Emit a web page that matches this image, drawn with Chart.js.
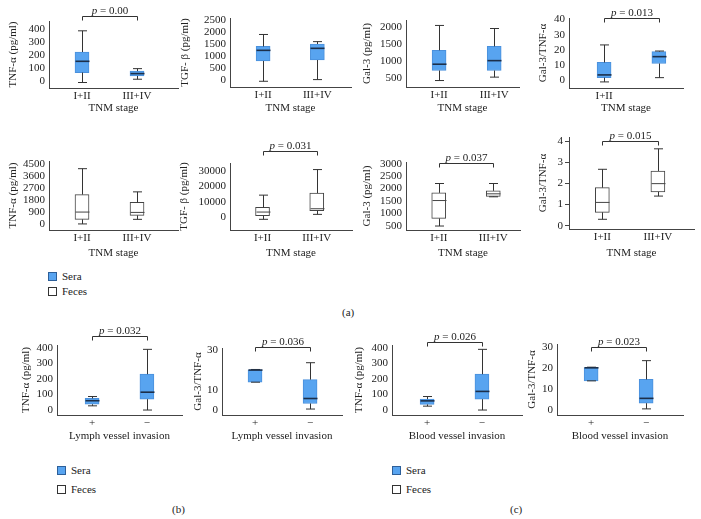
<!DOCTYPE html>
<html>
<head>
<meta charset="utf-8">
<script src="https://cdn.jsdelivr.net/npm/chart.js@4.4.0/dist/chart.umd.min.js"></script>
<style>
body { margin: 0; background: #fff; }
#wrap { position: relative; width: 701px; height: 519px; overflow: hidden; font-family: 'Liberation Serif', 'Times New Roman', serif; color: #222; }
#wrap canvas { position: absolute; }
.txt { position: absolute; font-size: 11px; line-height: 13px; white-space: nowrap; }
.sq { position: absolute; width: 7px; height: 7px; border: 1px solid #333; }
</style>
</head>
<body>
<div id="wrap">
  <div class="sq" style="left:48px;top:272px;background:#58a4f0;border-color:#2d5f99"></div>
  <div class="txt" style="left:62px;top:270px">Sera</div>
  <div class="sq" style="left:48px;top:287px;background:#fff"></div>
  <div class="txt" style="left:62px;top:285px">Feces</div>
  <div class="txt" style="left:342px;top:306px">(a)</div>

  <div class="sq" style="left:57px;top:466px;background:#58a4f0;border-color:#2d5f99"></div>
  <div class="txt" style="left:71px;top:464px">Sera</div>
  <div class="sq" style="left:57px;top:485px;background:#fff"></div>
  <div class="txt" style="left:71px;top:483px">Feces</div>
  <div class="txt" style="left:172px;top:503px">(b)</div>

  <div class="sq" style="left:392px;top:466px;background:#58a4f0;border-color:#2d5f99"></div>
  <div class="txt" style="left:406px;top:464px">Sera</div>
  <div class="sq" style="left:392px;top:485px;background:#fff"></div>
  <div class="txt" style="left:406px;top:483px">Feces</div>
  <div class="txt" style="left:510px;top:503px">(c)</div>
</div>
<script>
const fontFam = "'Liberation Serif', 'Times New Roman', serif";
const tnmStages = ['I+II', 'III+IV'];
const tnmStagesCut = ['I+II', ''];
const invasion = ['+', '\u2212'];

// each group: [min, q1, median, q3, max]
const seraTnfTnm = [[-10, 66, 152, 223, 385], [15, 40, 58, 77, 96]];
const seraTgfTnm = [[-50, 800, 1245, 1410, 1910], [20, 840, 1330, 1510, 1610]];
const seraGal3Tnm = [[420, 715, 900, 1310, 2040], [520, 715, 1005, 1425, 1950]];
const seraRatioTnm = [[-1, 1.8, 3.6, 11.8, 23.3], [1.8, 11.1, 15.6, 18.9, 19.3]];
const fecesTnfTnm = [[30, 370, 910, 2210, 4130], [370, 665, 885, 1625, 2410]];
const fecesTgfTnm = [[-1500, 870, 3260, 6300, 14350], [1740, 4130, 5430, 15650, 31100]];
const fecesGal3Tnm = [[490, 795, 1515, 1825, 2200], [1665, 1680, 1785, 1905, 2200]];
const fecesRatioTnm = [[0.30, 0.63, 1.10, 1.80, 2.67], [1.40, 1.60, 1.99, 2.59, 3.64]];
const seraTnfLymph = [[25, 35, 58, 73, 85], [-2, 68, 113, 229, 389]];
const seraRatioLymph = [[14, 14, 20.1, 20.2, 20.4], [0.5, 3.3, 5.8, 15.3, 23.8]];
const seraTnfBlood = [[23, 34, 57, 68, 85], [-2, 68, 118, 229, 389]];
const seraRatioBlood = [[13.8, 13.8, 20, 20.1, 20.3], [0.5, 3.2, 5.5, 14.5, 23.4]];

const ticksTnfSera = [0, 100, 200, 300, 400];
const ticksTgfSera = [0, 500, 1000, 1500, 2000, 2500];
const ticksGal3Sera = [500, 1000, 1500, 2000];
const ticksRatio40 = [0, 10, 20, 30, 40];
const ticksTnfFeces = [0, 900, 1800, 2700, 3600, 4500];
const ticksTgfFeces = [0, 10000, 20000, 30000];
const ticksGal3Feces = [500, 1000, 1500, 2000, 2500, 3000];
const ticksRatioFeces = [0, 1, 2, 3, 4];
const ticksRatioLymph = [0, 10, 30];
const ticksRatioBlood = [0, 10, 20, 30];

const seraFill = '#58a4f0', seraEdge = '#4a90dc', seraMedian = '#1c2f4a';
const axisCol = '#444', textCol = '#222';
const font = { family: fontFam, size: 11, lineHeight: 1.2 };

const panels = [
  { stats: seraTnfTnm, labels: tnmStages, ticks: ticksTnfSera, y: [-52, 460], yTitle: 'TNF-\u03b1 (pg/ml)', xTitle: 'TNM stage', sera: true,
    p: '0.00', brY: 15.7, titleX: 14, axisX: 49, axisRight: 178, chartTop: 21, axisY: 88, xTitleY: 108, xr: [0.4, 2.745] },
  { stats: seraTgfTnm, labels: tnmStages, ticks: ticksTgfSera, y: [-290, 2600], yTitle: 'TGF- \u03b2 (pg/ml)', xTitle: 'TNM stage', sera: true,
    titleX: 186, axisX: 230, axisRight: 351, chartTop: 18, axisY: 87, xTitleY: 108, xr: [0.39, 2.62] },
  { stats: seraGal3Tnm, labels: tnmStages, ticks: ticksGal3Sera, y: [230, 2200], yTitle: 'Gal-3 (pg/ml)', xTitle: 'TNM stage', sera: true,
    titleX: 368, axisX: 406, axisRight: 519, chartTop: 20, axisY: 87, xTitleY: 108, xr: [0.4, 2.45] },
  { stats: seraRatioTnm, labels: tnmStagesCut, ticks: ticksRatio40, y: [-5, 41], yTitle: 'Gal-3/TNF-\u03b1', xTitle: 'TNM stage', sera: true,
    p: '0.013', brY: 18.3, titleX: 544, axisX: 569, axisRight: 683, chartTop: 18, axisY: 88, xTitleY: 108, xr: [0.36, 2.44] },
  { stats: fecesTnfTnm, labels: tnmStages, ticks: ticksTnfFeces, y: [-420, 4700], yTitle: 'TNF-\u03b1 (pg/ml)', xTitle: 'TNM stage', sera: false,
    titleX: 14, axisX: 49, axisRight: 178, chartTop: 161, axisY: 230, xTitleY: 253, xr: [0.4, 2.745] },
  { stats: fecesTgfTnm, labels: tnmStages, ticks: ticksTgfFeces, y: [-8500, 35400], yTitle: 'TGF- \u03b2 (pg/ml)', xTitle: 'TNM stage', sera: false,
    p: '0.031', brY: 150.7, titleX: 185, axisX: 230, axisRight: 352, chartTop: 163, axisY: 230, xTitleY: 253, xr: [0.4, 2.65] },
  { stats: fecesGal3Tnm, labels: tnmStages, ticks: ticksGal3Feces, y: [330, 3065], yTitle: 'Gal-3 (pg/ml)', xTitle: 'TNM stage', sera: false,
    p: '0.037', brY: 163.3, titleX: 368, axisX: 406, axisRight: 520, chartTop: 162, axisY: 230, xTitleY: 253, xr: [0.4, 2.49] },
  { stats: fecesRatioTnm, labels: tnmStages, ticks: ticksRatioFeces, y: [-0.16, 4.2], yTitle: 'Gal-3/TNF-\u03b1', xTitle: 'TNM stage', sera: false, tickMarks: true,
    p: '0.015', brY: 140.7, titleX: 544, axisX: 569, axisRight: 694, chartTop: 137, axisY: 229, xTitleY: 253, xr: [0.4, 2.65] },
  { stats: seraTnfLymph, labels: invasion, ticks: ticksTnfSera, y: [-34, 417], yTitle: 'TNF-\u03b1 (pg/ml)', xTitle: 'Lymph vessel invasion', sera: true,
    p: '0.032', brY: 336, titleX: 27, axisX: 57, axisRight: 182, chartTop: 345, axisY: 415, xTitleY: 436, xr: [0.36, 2.64] },
  { stats: seraRatioLymph, labels: invasion, ticks: ticksRatioLymph, y: [-2.5, 31.2], yTitle: 'Gal-3/TNF-\u03b1', xTitle: 'Lymph vessel invasion', sera: true,
    p: '0.036', brY: 346.7, titleX: 199, axisX: 222, axisRight: 342, chartTop: 348, axisY: 415, xTitleY: 436, xr: [0.4, 2.58] },
  { stats: seraTnfBlood, labels: invasion, ticks: ticksTnfSera, y: [-34, 417], yTitle: 'TNF-\u03b1 (pg/ml)', xTitle: 'Blood vessel invasion', sera: true,
    p: '0.026', brY: 341.7, titleX: 360, axisX: 392, axisRight: 522, chartTop: 345, axisY: 415, xTitleY: 436, xr: [0.36, 2.73] },
  { stats: seraRatioBlood, labels: invasion, ticks: ticksRatioBlood, y: [-2.4, 31.3], yTitle: 'Gal-3/TNF-\u03b1', xTitle: 'Blood vessel invasion', sera: true,
    p: '0.023', brY: 346.7, titleX: 533, axisX: 557, axisRight: 683, chartTop: 344, axisY: 415, xTitleY: 436, xr: [0.38, 2.67] }
];

// whiskers, medians and the p-value bracket, placed through the chart scales
function boxExtras(p) {
  return {
    id: 'boxExtras',
    afterDatasetsDraw(chart) {
      const { ctx, scales: { x, y } } = chart;
      ctx.save();
      p.stats.forEach((s, i) => {
        const cx = Math.round(x.getPixelForValue(i + 1)) + 0.5;
        const py = s.map(v => y.getPixelForValue(v));
        ctx.strokeStyle = '#333';
        ctx.lineWidth = 1;
        ctx.beginPath();
        ctx.moveTo(cx, py[3]); ctx.lineTo(cx, py[4]);
        ctx.moveTo(cx - 4.5, py[4]); ctx.lineTo(cx + 4.5, py[4]);
        ctx.moveTo(cx, py[1]); ctx.lineTo(cx, py[0]);
        ctx.moveTo(cx - 4.5, py[0]); ctx.lineTo(cx + 4.5, py[0]);
        ctx.stroke();
        ctx.strokeStyle = p.sera ? seraMedian : '#444';
        ctx.lineWidth = p.sera ? 1.6 : 1;
        ctx.beginPath();
        ctx.moveTo(cx - 7, py[2]); ctx.lineTo(cx + 7, py[2]);
        ctx.stroke();
      });
      if (p.p) {
        const by = Math.round(p.brY - p.top) + 0.5;
        const x1 = Math.round(x.getPixelForValue(1)) + 0.5;
        const x2 = Math.round(x.getPixelForValue(2)) + 0.5;
        ctx.strokeStyle = '#333';
        ctx.lineWidth = 1;
        ctx.beginPath();
        ctx.moveTo(x1, by + 4); ctx.lineTo(x1, by); ctx.lineTo(x2, by); ctx.lineTo(x2, by + 4);
        ctx.stroke();
        ctx.fillStyle = textCol;
        ctx.textBaseline = 'alphabetic';
        ctx.textAlign = 'left';
        ctx.font = 'italic 11px ' + fontFam;
        const w1 = ctx.measureText('p').width;
        const rest = ' = ' + p.p;
        ctx.font = '11px ' + fontFam;
        const w2 = ctx.measureText(rest).width;
        const sx = (x1 + x2) / 2 - (w1 + w2) / 2;
        ctx.font = 'italic 11px ' + fontFam;
        ctx.fillText('p', sx, by - 3);
        ctx.font = '11px ' + fontFam;
        ctx.fillText(rest, sx + w1, by - 3);
      }
      ctx.restore();
    }
  };
}

const wrap = document.getElementById('wrap');

panels.forEach(p => {
  const left = Math.round(p.titleX - 6.6);
  const top = p.chartTop - 22;
  const bottom = Math.round(p.xTitleY + 6.6);
  p.top = top;
  const cv = document.createElement('canvas');
  cv.width = p.axisRight + 4 - left;
  cv.height = bottom - top;
  cv.style.left = left + 'px';
  cv.style.top = top + 'px';
  wrap.appendChild(cv);

  const boxes = p.stats.map((s, i) => ({ x: i + 1, y: [s[1], s[3]] }));

  new Chart(cv, {
    type: 'bar',
    data: {
      datasets: [{
        data: boxes,
        backgroundColor: p.sera ? seraFill : '#fff',
        borderColor: p.sera ? seraEdge : '#444',
        borderWidth: 1,
        borderSkipped: false,
        barThickness: 14
      }]
    },
    options: {
      responsive: false,
      animation: false,
      layout: { padding: { top: 22, right: 4, left: 0, bottom: 0 } },
      plugins: { legend: { display: false }, tooltip: { enabled: false } },
      scales: {
        x: {
          type: 'linear',
          offset: false,
          min: p.xr[0],
          max: p.xr[1],
          grid: { display: false, drawTicks: false },
          border: { color: axisCol, width: 1 },
          afterBuildTicks: s => { s.ticks = p.labels.map((l, i) => ({ value: i + 1 })); },
          ticks: { autoSkip: false, maxRotation: 0, padding: 2, font: font, color: textCol, callback: (v, i) => p.labels[i] },
          title: { display: true, text: p.xTitle, padding: 0, font: font, color: textCol },
          afterFit: s => { s.height = bottom - p.axisY; }
        },
        y: {
          min: p.y[0],
          max: p.y[1],
          grid: p.tickMarks
            ? { display: true, drawOnChartArea: false, drawTicks: true, tickLength: 4, color: axisCol }
            : { display: false, drawTicks: false },
          border: { color: axisCol, width: 1 },
          afterBuildTicks: s => { s.ticks = p.ticks.map(v => ({ value: v })); },
          ticks: { autoSkip: false, padding: p.tickMarks ? 2 : 4, font: font, color: textCol, callback: v => String(v) },
          title: { display: true, text: p.yTitle, padding: 0, font: font, color: textCol },
          afterFit: s => { s.width = p.axisX - left; }
        }
      }
    },
    plugins: [boxExtras(p)]
  });
});
</script>
</body>
</html>
